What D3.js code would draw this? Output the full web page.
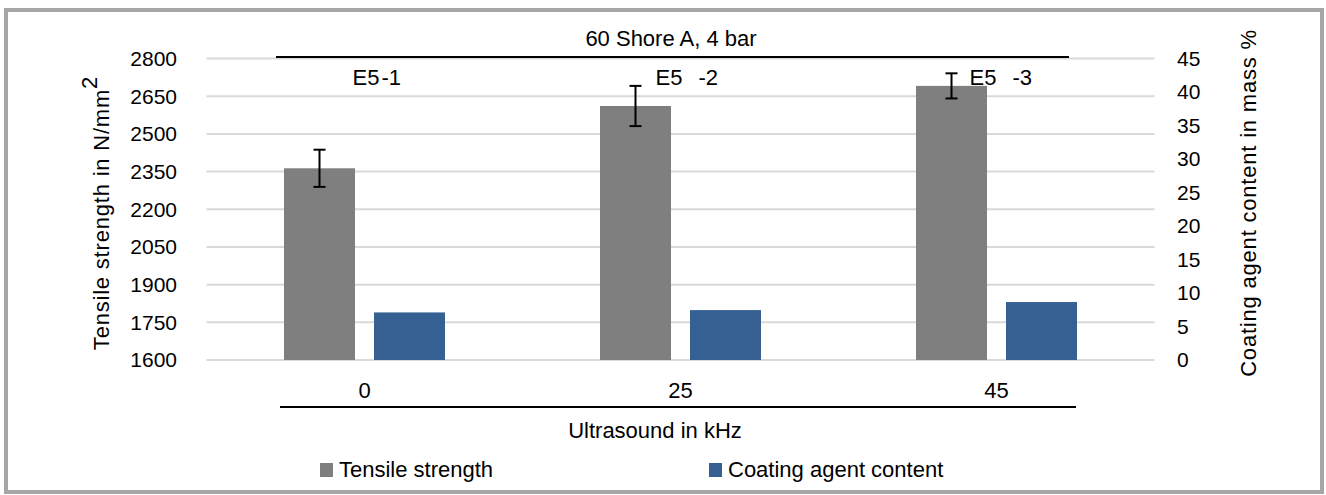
<!DOCTYPE html>
<html>
<head>
<meta charset="utf-8">
<script src="https://cdn.jsdelivr.net/npm/d3@7.9.0/dist/d3.min.js"></script>
<style>
  body { margin: 0; background: #fff; }
  svg text { font-family: "Liberation Sans", Arial, sans-serif; fill: #000; }
</style>
</head>
<body>
<svg id="chart" width="1326" height="495"></svg>
<script>
// data
const categories = ['0', '25', '45'];
const tensile = [2363, 2611, 2691];
const tensileErr = [74, 80, 50];
const coating = [7.1, 7.45, 8.65];
const sampleLabels = [['E5', '-1'], ['E5', '-2'], ['E5', '-3']];
const leftTicks = [1600, 1750, 1900, 2050, 2200, 2350, 2500, 2650, 2800];
const rightTicks = [0, 5, 10, 15, 20, 25, 30, 35, 40, 45];

const svg = d3.select('#chart');
const fs = 22;      // general text
const tickFs = 21;  // axis tick labels

// frame
svg.append('rect')
  .attr('x', 6).attr('y', 10).attr('width', 1316).attr('height', 482)
  .attr('fill', '#fff').attr('stroke', '#a6a6a6').attr('stroke-width', 4);

const plot = { left: 206.5, right: 1154.5, top: 58.5, bottom: 360 };

const x = d3.scaleBand().domain(categories).range([plot.left, plot.right]);
const yL = d3.scaleLinear().domain([1600, 2800]).range([plot.bottom, plot.top]);
const yR = d3.scaleLinear().domain([0, 45]).range([plot.bottom, plot.top]);

const barW = 71, gap = 19;

// gridlines
svg.append('g').selectAll('line')
  .data(leftTicks).join('line')
  .attr('x1', plot.left).attr('x2', plot.right)
  .attr('y1', d => yL(d)).attr('y2', d => yL(d))
  .attr('stroke', '#d9d9d9').attr('stroke-width', 2);

// left ticks
svg.append('g').selectAll('text')
  .data(leftTicks).join('text')
  .attr('x', 177).attr('y', d => yL(d))
  .attr('dy', '0.35em').attr('text-anchor', 'end')
  .attr('font-size', tickFs).text(d => d);

// right ticks
svg.append('g').selectAll('text')
  .data(rightTicks).join('text')
  .attr('x', 1177).attr('y', d => yR(d))
  .attr('dy', '0.35em').attr('text-anchor', 'start')
  .attr('font-size', tickFs).text(d => d);

const cx = c => x(c) + x.bandwidth() / 2;

// tensile bars
svg.append('g').selectAll('rect')
  .data(categories).join('rect')
  .attr('x', c => cx(c) - gap / 2 - barW)
  .attr('width', barW)
  .attr('y', (c, i) => yL(tensile[i]))
  .attr('height', (c, i) => yL(1600) - yL(tensile[i]))
  .attr('fill', '#7f7f7f');

// coating bars
svg.append('g').selectAll('rect')
  .data(categories).join('rect')
  .attr('x', c => cx(c) + gap / 2)
  .attr('width', barW)
  .attr('y', (c, i) => yR(coating[i]))
  .attr('height', (c, i) => yR(0) - yR(coating[i]))
  .attr('fill', '#366092');

// error bars
const eg = svg.append('g').attr('stroke', '#000').attr('stroke-width', 2);
categories.forEach((c, i) => {
  const ex = cx(c) - gap / 2 - barW / 2;
  const top = yL(tensile[i] + tensileErr[i]);
  const bot = yL(tensile[i] - tensileErr[i]);
  eg.append('line').attr('x1', ex).attr('x2', ex).attr('y1', top).attr('y2', bot);
  eg.append('line').attr('x1', ex - 6).attr('x2', ex + 6).attr('y1', top).attr('y2', top);
  eg.append('line').attr('x1', ex - 6).attr('x2', ex + 6).attr('y1', bot).attr('y2', bot);
});

// sample labels
const labelOffsets = [[-12, 2], [-25, 16], [-27, 16]];
categories.forEach((c, i) => {
  const t = svg.append('text').attr('y', 77).attr('dy', '0.35em').attr('font-size', fs);
  t.append('tspan').attr('x', cx(c) + labelOffsets[i][0]).text(sampleLabels[i][0]);
  t.append('tspan').attr('dx', labelOffsets[i][1]).text(sampleLabels[i][1]);
});

// top bracket + title
const first = categories[0], last = categories[categories.length - 1];
svg.append('line')
  .attr('x1', cx(first) - gap / 2 - barW - 8).attr('x2', cx(last) + gap / 2 + barW - 8)
  .attr('y1', 57).attr('y2', 57).attr('stroke', '#000').attr('stroke-width', 2);
svg.append('text')
  .attr('x', 671).attr('y', 38).attr('dy', '0.35em')
  .attr('text-anchor', 'middle').attr('font-size', fs).text('60 Shore A, 4 bar');

// category labels
svg.append('g').selectAll('text')
  .data(categories).join('text')
  .attr('x', c => cx(c)).attr('y', 390).attr('dy', '0.35em')
  .attr('text-anchor', 'middle').attr('font-size', fs).text(d => d);

// bottom bracket
svg.append('line')
  .attr('x1', cx(first) - gap / 2 - barW - 4).attr('x2', cx(last) + gap / 2 + barW - 1)
  .attr('y1', 407).attr('y2', 407).attr('stroke', '#000').attr('stroke-width', 2);

svg.append('text')
  .attr('x', 655).attr('y', 430).attr('dy', '0.35em')
  .attr('text-anchor', 'middle').attr('font-size', fs).text('Ultrasound in kHz');

// axis titles
const lt = svg.append('text')
  .attr('transform', 'translate(109,213) rotate(-90)')
  .attr('text-anchor', 'middle').attr('font-size', fs)
  .attr('letter-spacing', 0.8);
lt.append('tspan').text('Tensile strength in N/mm');
lt.append('tspan').attr('baseline-shift', 'super').text('2');

svg.append('text')
  .attr('transform', 'translate(1256,203) rotate(-90)')
  .attr('text-anchor', 'middle').attr('font-size', fs)
  .attr('letter-spacing', 0.8)
  .text('Coating agent content in mass %');

// legend
const legendItems = [
  { name: 'Tensile strength', color: '#7f7f7f', x: 320 },
  { name: 'Coating agent content', color: '#366092', x: 709 }
];
const lg = svg.append('g').selectAll('g').data(legendItems).join('g');
lg.append('rect')
  .attr('x', d => d.x).attr('y', 463).attr('width', 13).attr('height', 14)
  .attr('fill', d => d.color);
lg.append('text')
  .attr('x', d => d.x + 19).attr('y', 469).attr('dy', '0.35em')
  .attr('font-size', fs).text(d => d.name);
</script>
</body>
</html>
